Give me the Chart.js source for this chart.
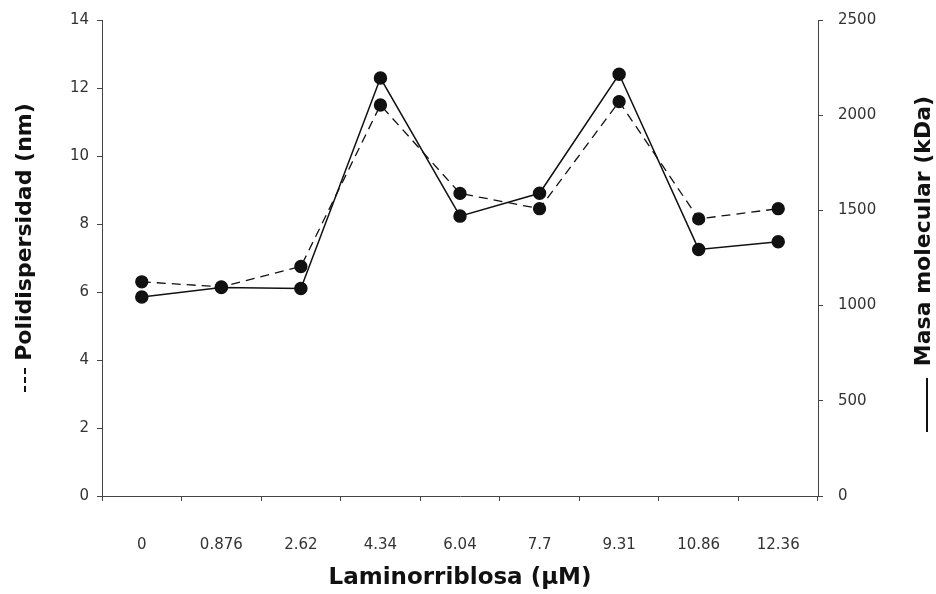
<!DOCTYPE html>
<html>
<head>
<meta charset="utf-8">
<script src="https://cdn.jsdelivr.net/npm/chart.js@4"></script>
<style>
  html, body { margin: 0; padding: 0; background: #fff; }
  #wrap { width: 936px; height: 594px; }
</style>
</head>
<body>
<div id="wrap"><canvas id="chart" width="936" height="594"></canvas></div>
<script>
// Laminorribiosa concentrations (x categories)
const labels = ["0", "0.876", "2.62", "4.34", "6.04", "7.7", "9.31", "10.86", "12.36"];
// Polidispersidad (nm) - dashed, left axis
const polidispersidad = [6.3, 6.15, 6.75, 11.5, 8.9, 8.45, 11.6, 8.15, 8.45];
// Masa molecular (kDa) - solid, right axis
const masaMolecular = [1045, 1095, 1090, 2195, 1470, 1590, 2215, 1295, 1335];

const axisColor = "#444";
const fontFamily = "'DejaVu Sans', Verdana, sans-serif";
const tickFont = { family: fontFamily, size: 15 };

// rotated axis titles with small line markers (like the original figure)
const yTitles = {
  id: "yTitles",
  afterDraw(chart) {
    const ctx = chart.ctx;
    const drawTitle = (x, y, text, dash, markX, markFrom, markTo) => {
      ctx.save();
      ctx.translate(x, y);
      ctx.rotate(-Math.PI / 2);
      ctx.font = "bold 22px " + fontFamily;
      ctx.fillStyle = "#111";
      ctx.textAlign = "center";
      ctx.textBaseline = "middle";
      ctx.fillText(text, 0, 0);
      ctx.restore();
      ctx.save();
      ctx.strokeStyle = "#111";
      ctx.lineWidth = 2;
      ctx.setLineDash(dash);
      ctx.beginPath();
      ctx.moveTo(markX, markFrom);
      ctx.lineTo(markX, markTo);
      ctx.stroke();
      ctx.restore();
    };
    drawTitle(25, 232, "Polidispersidad (nm)", [6, 3], 25, 368, 393);
    drawTitle(924, 231, "Masa molecular (kDa)", [], 927, 378, 432);
  }
};

// fixed axis box sizes so the plot area sits where it does in the figure
const fixWidth = (w) => (s) => { s.width = w; s.paddingTop = 0; s.paddingBottom = 0; };

new Chart(document.getElementById("chart").getContext("2d"), {
  type: "line",
  data: {
    labels: labels,
    datasets: [
      {
        label: "Polidispersidad (nm)",
        data: polidispersidad,
        yAxisID: "y",
        borderColor: "#111",
        backgroundColor: "#111",
        borderWidth: 1.3,
        borderDash: [9, 6],
        pointRadius: 6,
        pointHoverRadius: 6,
        tension: 0,
      },
      {
        label: "Masa molecular (kDa)",
        data: masaMolecular,
        yAxisID: "y1",
        borderColor: "#111",
        backgroundColor: "#111",
        borderWidth: 1.5,
        pointRadius: 6,
        pointHoverRadius: 6,
        tension: 0,
      },
    ],
  },
  options: {
    responsive: false,
    animation: false,
    layout: { padding: { top: 20, left: 0, right: 0, bottom: 0 } },
    plugins: {
      legend: { display: false },
      tooltip: { enabled: false },
    },
    scales: {
      x: {
        offset: true,
        afterFit: (s) => { s.height = 98; },
        grid: { offset: true, drawOnChartArea: false, tickLength: 5, color: axisColor },
        border: { color: axisColor, width: 1, dash: [3, 2] },
        ticks: { color: "#333", font: tickFont, padding: 35, maxRotation: 0, autoSkip: false },
        title: {
          display: true,
          text: "Laminorriblosa (\u00b5M)",
          color: "#111",
          font: { family: fontFamily, size: 23, weight: "bold" },
          padding: { top: 0, bottom: 2 },
        },
      },
      y: {
        position: "left",
        min: 0,
        max: 14,
        afterFit: fixWidth(102),
        grid: { drawOnChartArea: false, tickLength: 5, color: axisColor },
        border: { color: axisColor, width: 1 },
        ticks: { stepSize: 2, color: "#333", font: tickFont, padding: 8 },
      },
      y1: {
        position: "right",
        min: 0,
        max: 2500,
        afterFit: fixWidth(118),
        grid: { drawOnChartArea: false, tickLength: 5, color: axisColor },
        border: { color: axisColor, width: 1 },
        ticks: { stepSize: 500, color: "#333", font: tickFont, padding: 15, callback: (v) => String(v) },
      },
    },
  },
  plugins: [yTitles],
});
</script>
</body>
</html>
